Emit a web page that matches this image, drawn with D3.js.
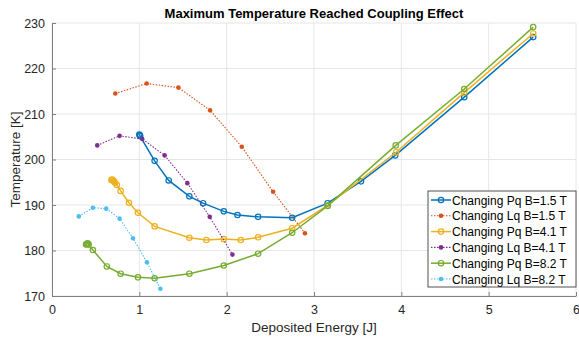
<!DOCTYPE html>
<html>
<head>
<meta charset="utf-8">
<script src="https://cdn.jsdelivr.net/npm/d3@7"></script>
<style>
  body { margin: 0; background: #fff; }
  text { font-family: "Liberation Sans", Arial, sans-serif; }
</style>
</head>
<body>
<div id="chart"></div>
<script>
// data
var seriesNames = ["Changing Pq B=1.5 T", "Changing Lq B=1.5 T", "Changing Pq B=4.1 T",
                   "Changing Lq B=4.1 T", "Changing Pq B=8.2 T", "Changing Lq B=8.2 T"];
var seriesColors = ["#0072BD", "#D95319", "#EDB120", "#7E2F8E", "#77AC30", "#4DBEEE"];

var pq15E = [1.0, 1.005, 1.01, 1.175, 1.336, 1.573, 1.73, 1.967, 2.124, 2.36, 2.75, 3.156, 3.538, 3.93, 4.72, 5.51];
var pq15T = [205.5, 205.3, 205.1, 199.7, 195.4, 191.9, 190.4, 188.6, 187.8, 187.4, 187.2, 190.4, 195.2, 200.9, 213.7, 226.9];

var lq15E = [0.725, 1.084, 1.447, 1.81, 2.173, 2.532, 2.896];
var lq15T = [214.5, 216.7, 215.8, 210.8, 202.8, 192.9, 183.8];

var pq41E = [0.68, 0.69, 0.70, 0.71, 0.72, 0.743, 0.786, 0.881, 0.984, 1.175, 1.573, 1.768, 1.967, 2.162, 2.36, 2.75, 3.156, 3.94, 4.72, 5.51];
var pq41T = [195.5, 195.6, 195.4, 195.2, 194.9, 194.4, 193.1, 190.5, 188.3, 185.3, 182.8, 182.3, 182.5, 182.3, 182.9, 184.9, 189.9, 201.6, 214.7, 227.7];

var lq41E = [0.518, 0.774, 1.034, 1.290, 1.55, 1.806, 2.066];
var lq41T = [203.1, 205.2, 204.5, 200.9, 194.8, 187.4, 179.1];

var pq82E = [0.39, 0.40, 0.41, 0.42, 0.468, 0.628, 0.786, 0.984, 1.175, 1.573, 1.967, 2.36, 2.75, 3.156, 3.936, 4.72, 5.51];
var pq82T = [181.3, 181.5, 181.6, 181.3, 180.1, 176.5, 174.9, 174.1, 173.9, 174.9, 176.7, 179.3, 183.9, 189.8, 203.1, 215.5, 229.1];

var lq82E = [0.307, 0.468, 0.621, 0.774, 0.927, 1.087, 1.241];
var lq82T = [187.5, 189.4, 189.2, 187.0, 182.7, 177.4, 171.6];

var xTicks = [0, 1, 2, 3, 4, 5, 6];
var yTicks = [170, 180, 190, 200, 210, 220, 230];

var seriesE = [pq15E, lq15E, pq41E, lq41E, pq82E, lq82E];
var seriesT = [pq15T, lq15T, pq41T, lq41T, pq82T, lq82T];

var svgWidth = 579, svgHeight = 340;
var margin = {top: 23, right: 3, bottom: 44, left: 52};
var width = svgWidth - margin.left - margin.right;
var height = svgHeight - margin.top - margin.bottom;

var svg = d3.select("#chart").append("svg")
  .attr("width", svgWidth)
  .attr("height", svgHeight);

var g = svg.append("g")
  .attr("transform", `translate(${margin.left}, ${margin.top})`);

var x = d3.scaleLinear().domain([0, 6]).range([0, width]);
var y = d3.scaleLinear().domain([170, 230]).range([height, 0]);

// grid
g.selectAll(".gx").data(xTicks).enter().append("line")
  .attr("x1", d => x(d)).attr("x2", d => x(d))
  .attr("y1", 0).attr("y2", height)
  .attr("stroke", "#e6e6e6").attr("stroke-width", 1);
g.selectAll(".gy").data(yTicks).enter().append("line")
  .attr("x1", 0).attr("x2", width)
  .attr("y1", d => y(d)).attr("y2", d => y(d))
  .attr("stroke", "#e6e6e6").attr("stroke-width", 1);

// axes
var xAxis = g.append("g")
  .attr("transform", `translate(0, ${height})`)
  .call(d3.axisBottom(x).tickValues(xTicks).tickFormat(d3.format("d"))
    .tickSizeInner(-4).tickSizeOuter(0).tickPadding(9));
var yAxis = g.append("g")
  .call(d3.axisLeft(y).tickValues(yTicks).tickFormat(d3.format("d"))
    .tickSizeInner(-4).tickSizeOuter(0).tickPadding(7));

[xAxis, yAxis].forEach(function(a) {
  a.select(".domain").attr("stroke", "#808080");
  a.selectAll(".tick line").attr("stroke", "#808080");
  a.selectAll(".tick text").attr("fill", "#262626")
    .style("font-size", "12.5px").style("font-family", "Liberation Sans, Arial, sans-serif");
});

// lines
var line = d3.line().x(d => x(d[0])).y(d => y(d[1]));

seriesE.forEach(function(es, i) {
  var pts = es.map((e, j) => [e, seriesT[i][j]]);
  var isLq = i % 2 == 1;
  g.append("path")
    .datum(pts)
    .attr("d", line)
    .attr("fill", "none")
    .attr("stroke", seriesColors[i])
    .attr("stroke-width", isLq ? 1.1 : 1.5)
    .attr("stroke-dasharray", isLq ? "1.5,1.5" : null);

  if (isLq) {
    g.selectAll(".m" + i).data(pts).enter().append("circle")
      .attr("cx", d => x(d[0])).attr("cy", d => y(d[1]))
      .attr("r", 2.3)
      .attr("fill", seriesColors[i]);
  } else {
    g.selectAll(".m" + i).data(pts).enter().append("circle")
      .attr("cx", d => x(d[0])).attr("cy", d => y(d[1]))
      .attr("r", 2.7)
      .attr("fill", "none")
      .attr("stroke", seriesColors[i])
      .attr("stroke-width", 1.2);
  }
});

// title and axis labels
svg.append("text")
  .attr("x", margin.left + width / 2)
  .attr("y", 18)
  .attr("text-anchor", "middle")
  .style("font-size", "13px")
  .style("font-weight", "bold")
  .attr("fill", "#000")
  .text("Maximum Temperature Reached Coupling Effect");

svg.append("text")
  .attr("x", margin.left + width / 2)
  .attr("y", 332)
  .attr("text-anchor", "middle")
  .style("font-size", "13.5px")
  .attr("fill", "#262626")
  .text("Deposited Energy [J]");

svg.append("text")
  .attr("transform", `translate(20, ${margin.top + height / 2}) rotate(-90)`)
  .attr("text-anchor", "middle")
  .style("font-size", "13.5px")
  .attr("fill", "#262626")
  .text("Temperature [K]");

// legend
var legend = svg.append("g").attr("transform", "translate(428, 191)");
legend.append("rect")
  .attr("width", 148).attr("height", 96)
  .attr("fill", "#fff")
  .attr("stroke", "#262626").attr("stroke-width", 0.8);

seriesNames.forEach(function(name, i) {
  var row = legend.append("g").attr("transform", `translate(0, ${9 + i * 15.8})`);
  var isLq = i % 2 == 1;
  row.append("line")
    .attr("x1", 3).attr("x2", 23)
    .attr("stroke", seriesColors[i])
    .attr("stroke-width", isLq ? 1.1 : 1.5)
    .attr("stroke-dasharray", isLq ? "1.5,1.5" : null);
  if (isLq) {
    row.append("circle").attr("cx", 13).attr("r", 2.3).attr("fill", seriesColors[i]);
  } else {
    row.append("circle").attr("cx", 13).attr("r", 2.7)
      .attr("fill", "none").attr("stroke", seriesColors[i]).attr("stroke-width", 1.2);
  }
  row.append("text")
    .attr("x", 24).attr("y", 4.5)
    .style("font-size", "12px")
    .attr("fill", "#000")
    .text(name);
});
</script>
</body>
</html>
